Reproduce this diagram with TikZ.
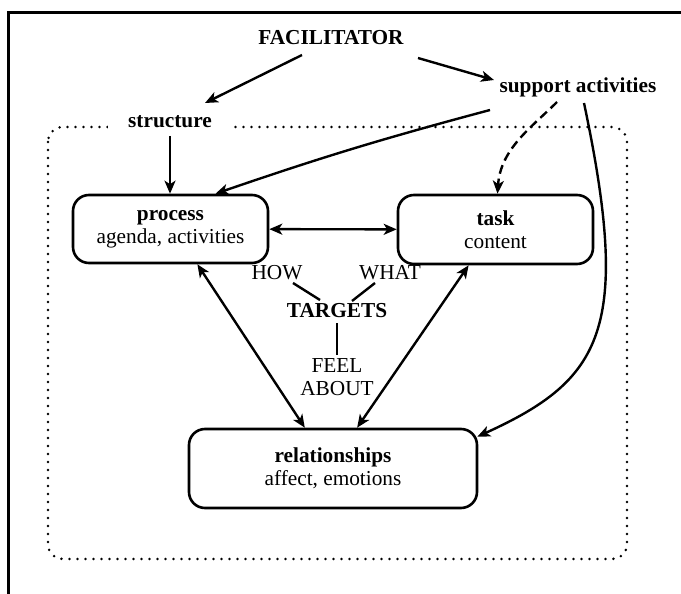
\documentclass[tikz,border=0pt]{standalone}
\usepackage{fontspec}
\setmainfont{Liberation Serif}
\usetikzlibrary{arrows.meta,calc}

\tikzset{
  every node/.style={font=\fontsize{21.3}{23}\selectfont, align=center, inner sep=2pt},
  arr/.style={-{Stealth[length=13pt,width=11pt,inset=3.5pt]}, line width=2.4pt},
  dbl/.style={{Stealth[length=13pt,width=11pt,inset=3.5pt]}-{Stealth[length=13pt,width=11pt,inset=3.5pt]}, line width=2.4pt},
  plain/.style={line width=2.4pt},
  areabox/.style={line width=2.8pt, line cap=round, dash pattern=on 0pt off 8pt, rounded corners=15pt},
  area/.style={draw, line width=2.6pt, rounded corners=16pt},
  title/.style={font=\fontsize{21.3}{23}\selectfont\bfseries},
  frame/.style={line width=3pt}
}

\begin{document}
\begin{tikzpicture}[x=1pt, y=-1pt]
\useasboundingbox (0,0) rectangle (681,594);

% outer frame
\draw[frame] (8,594) -- (8,13) -- (681,13);

% dotted enclosure
\draw[areabox] (48,127) rectangle (627,559);

% top labels
\node[title] (fac) at (331,38) {FACILITATOR};
\node[title] (sup) at (578,87) {support activities};
\node[title, fill=white, inner xsep=20pt, inner ysep=3pt] (struct) at (170,122) {structure};

% the three areas
\node[area, minimum width=195pt, minimum height=68pt] (process) at (170.5,229)
  {\textbf{process}\\agenda, activities};
\node[area, minimum width=195pt, minimum height=69pt] (task) at (495.5,229.5)
  {\textbf{task}\\content};
\node[area, minimum width=288pt, minimum height=79pt] (rel) at (333,468.5)
  {\textbf{relationships}\\affect, emotions};

% targets
\node[title] (targets) at (337,311) {TARGETS};
\node (how) at (277,273) {HOW};
\node (what) at (390,273) {WHAT};
\node (feel) at (337,377) {FEEL\\ABOUT};

\draw[plain] ($(how)+(16,10)$) -- ($(targets)+(-17,-11)$);
\draw[plain] ($(what)+(-15,10)$) -- ($(targets)+(15,-10)$);
\draw[plain] ($(targets)+(0,12)$) -- ($(feel)+(0,-22)$);

% facilitator connectors
\draw[arr] ($(fac)+(-29,17)$) -- ($(struct)+(35,-19)$);
\draw[arr] ($(fac)+(87,20)$) -- ($(sup)+(-84,-7)$);
\draw[arr] ($(struct)+(0,14)$) -- (process.north -| struct);

% support activities connectors
\draw[arr] ($(sup)+(-88,23)$) to[bend right=2] ($(process.north)+(45,0)$);
\draw[arr, dash pattern=on 9pt off 5pt] ($(sup)+(-21,15)$)
  .. controls +(-25,25) and +(3,-45) .. ($(task.north)+(2,0)$);
\draw[arr] ($(sup)+(6,16)$) .. controls (632,330) and (602,380) .. ($(rel.north east)+(-1,9)$);

% links between areas
\draw[dbl] (process) -- (task);
\draw[dbl] ($(process.south west)!0.636!(process.south east)$) -- ($(rel.north west)!0.403!(rel.north east)$);
\draw[dbl] ($(task.south west)!0.364!(task.south east)$) -- ($(rel.north west)!0.583!(rel.north east)$);
\end{tikzpicture}
\end{document}
